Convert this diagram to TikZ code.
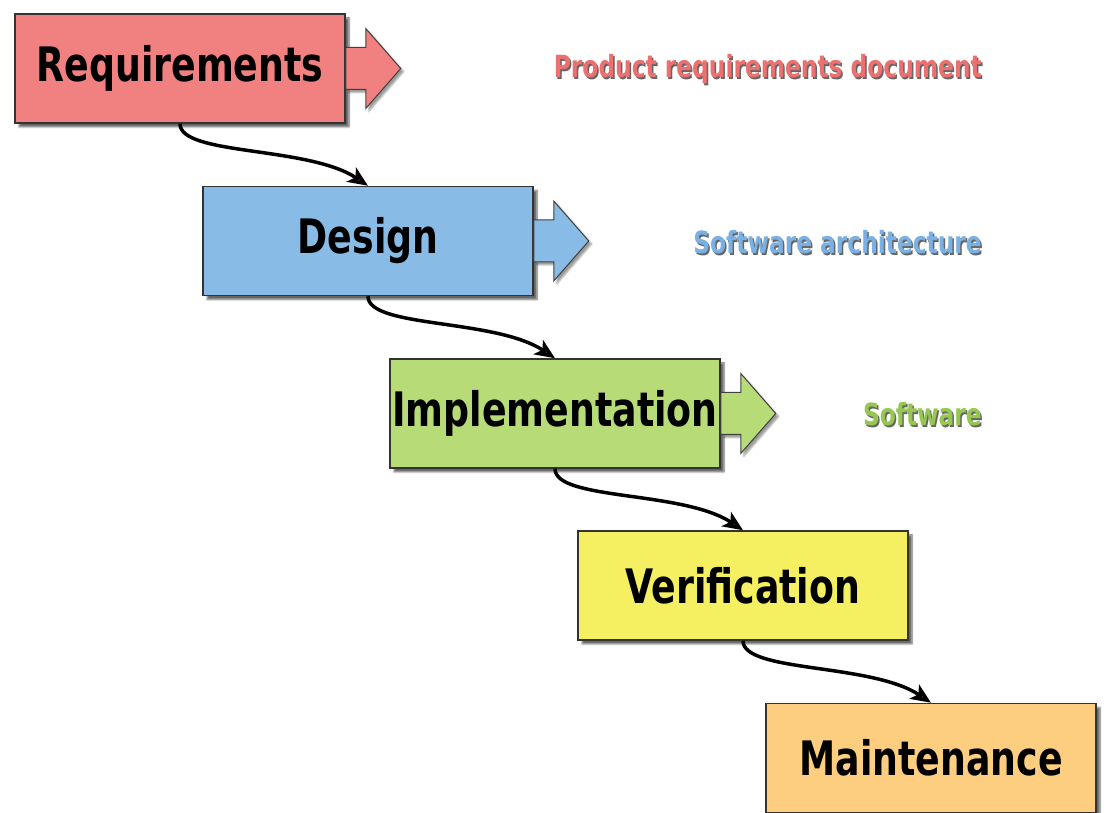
\documentclass[tikz,border=0pt]{standalone}
\usepackage{fontspec}
\newfontfamily\stagefont[FakeStretch=0.85]{DejaVu Sans Condensed}
\usetikzlibrary{arrows.meta,shadows.blur}

\definecolor{reqred}{RGB}{241,128,128}
\definecolor{desblue}{RGB}{136,188,230}
\definecolor{impgreen}{RGB}{183,219,118}
\definecolor{veryellow}{RGB}{245,240,98}
\definecolor{mainorange}{RGB}{254,206,128}
\definecolor{reqtext}{RGB}{236,112,112}
\definecolor{destext}{RGB}{122,176,226}
\definecolor{imptext}{RGB}{150,200,80}

\newcommand{\shadowed}[2]{\makebox[0pt][l]{\hspace{1.5pt}\raisebox{-1.5pt}{\textcolor{black!60}{#2}}}\textcolor{#1}{#2}}

\tikzset{
    stage/.style={draw=black!80, line width=1.5pt, minimum width=330pt, minimum height=109pt,
        inner sep=0pt, font=\stagefont\bfseries\fontsize{47.5}{56}\selectfont,
        blur shadow={shadow xshift=4pt, shadow yshift=-4pt, shadow blur steps=6, shadow opacity=60}},
    outarrow/.style={draw=black!75, line width=1pt,
        blur shadow={shadow xshift=3pt, shadow yshift=-3pt, shadow blur steps=4, shadow opacity=40}},
    flow/.style={-{Stealth[length=20pt,width=17pt,inset=5pt]}, line width=3.5pt},
    product/.style={anchor=east, inner sep=0pt, font=\stagefont\bfseries\fontsize{30.5}{36}\selectfont}
}

\begin{document}
\begin{tikzpicture}[x=1pt, y=1pt]
    \useasboundingbox (0,0) rectangle (1109,812);

    % stages
    \node[stage, fill=reqred] (req) at (180, 743.5) {Requirements};
    \node[stage, fill=desblue] (des) at (368, 571) {Design};
    \node[stage, fill=impgreen] (imp) at (555, 398.5) {Implementation};
    \node[stage, fill=veryellow] (ver) at (743, 226.5) {Verification};
    \node[stage, fill=mainorange] (mai) at (931, 54) {Maintenance};

    % outputs
    \filldraw[outarrow, fill=reqred]([yshift=21pt]req.east) -- ++(20,0) -- ++(0,19) -- ++(35,-40) -- ++(-35,-40) -- ++(0,19) -- ++(-20,0) -- cycle;
    \filldraw[outarrow, fill=desblue]([yshift=21pt]des.east) -- ++(20,0) -- ++(0,19) -- ++(35,-40) -- ++(-35,-40) -- ++(0,19) -- ++(-20,0) -- cycle;
    \filldraw[outarrow, fill=impgreen]([yshift=21pt]imp.east) -- ++(20,0) -- ++(0,19) -- ++(35,-40) -- ++(-35,-40) -- ++(0,19) -- ++(-20,0) -- cycle;

    \node[product] (reqdoc) at (982, 742) {\shadowed{reqtext}{Product requirements document}};
    \node[product] (desdoc) at (982, 569) {\shadowed{destext}{Software architecture}};
    \node[product] (impdoc) at (982, 397) {\shadowed{imptext}{Software}};

    % flow
    \draw[flow](req.south) .. controls +(0,-32) and +(-60,40) .. (des.north);
    \draw[flow](des.south) .. controls +(0,-32) and +(-60,40) .. (imp.north);
    \draw[flow](imp.south) .. controls +(0,-32) and +(-60,40) .. (ver.north);
    \draw[flow](ver.south) .. controls +(0,-32) and +(-60,40) .. (mai.north);
\end{tikzpicture}
\end{document}
